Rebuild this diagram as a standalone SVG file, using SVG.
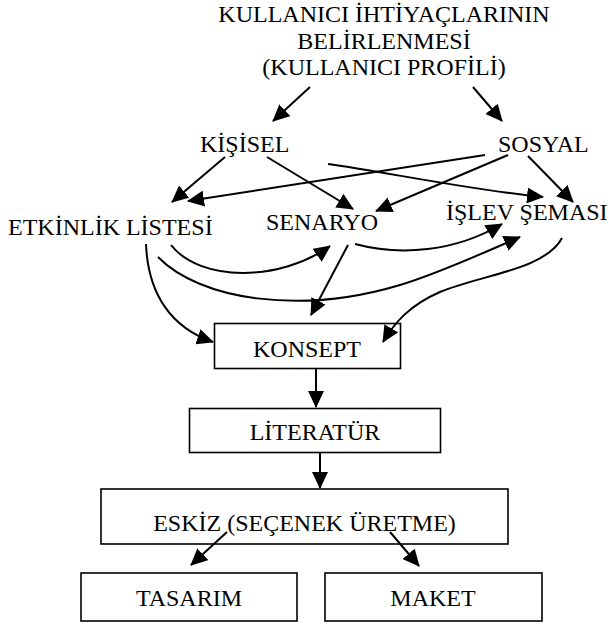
<svg xmlns="http://www.w3.org/2000/svg" width="609" height="625" viewBox="0 0 609 625">
  <style>
    text { font-family: "Liberation Serif", "Times New Roman", serif; font-size: 24px; fill: #000; }
    .c { text-anchor: middle; }
    .box { fill: none; stroke: #000; stroke-width: 1.6; }
    .edge { fill: none; stroke: #000; stroke-width: 2; marker-end: url(#ah); }
  </style>
  <defs>
    <marker id="ah" markerUnits="userSpaceOnUse" markerWidth="17" markerHeight="16" refX="16" refY="8" orient="auto">
      <path d="M0,0 L17,8 L0,16 z" fill="#000"/>
    </marker>
  </defs>
  <rect width="609" height="625" fill="#fff"/>

  <g id="kullanici">
    <text class="c" x="384" y="22">KULLANICI İHTİYAÇLARININ</text>
    <text class="c" x="384" y="49">BELİRLENMESİ</text>
    <text class="c" x="384" y="75">(KULLANICI PROFİLİ)</text>
  </g>
  <g id="kisisel"><text x="200" y="152">KİŞİSEL</text></g>
  <g id="sosyal"><text x="498" y="152">SOSYAL</text></g>
  <g id="etkinlik"><text x="8" y="235">ETKİNLİK LİSTESİ</text></g>
  <g id="senaryo"><text x="266" y="230">SENARYO</text></g>
  <g id="islev"><text x="446" y="220">İŞLEV ŞEMASI</text></g>

  <g id="konsept">
    <rect class="box" x="214.5" y="323.5" width="186" height="45"/>
    <text class="c" x="307" y="357">KONSEPT</text>
  </g>
  <g id="literatur">
    <rect class="box" x="189.5" y="408.5" width="251" height="44"/>
    <text class="c" x="315" y="440">LİTERATÜR</text>
  </g>
  <g id="eskiz">
    <rect class="box" x="101" y="489" width="407" height="55"/>
    <text class="c" x="304.5" y="531">ESKİZ (SEÇENEK ÜRETME)</text>
  </g>
  <g id="tasarim">
    <rect class="box" x="81" y="573" width="216" height="48"/>
    <text class="c" x="189" y="606">TASARIM</text>
  </g>
  <g id="maket">
    <rect class="box" x="325" y="573" width="217" height="48"/>
    <text class="c" x="433" y="606">MAKET</text>
  </g>

  <g id="connectors">
    <line class="edge" x1="310" y1="87" x2="273" y2="121"/>
    <line class="edge" x1="473" y1="87" x2="502" y2="121"/>
    <line class="edge" x1="225" y1="157" x2="172" y2="202"/>
    <line class="edge" x1="267" y1="157" x2="353" y2="209"/>
    <line class="edge" x1="485" y1="155" x2="188" y2="201"/>
    <line class="edge" x1="508" y1="155" x2="376" y2="211"/>
    <line class="edge" x1="528" y1="156" x2="573" y2="202"/>
    <path class="edge" d="M328,164 C380,171 470,190 543,197"/>
    <path class="edge" d="M146,244 C148,295 172,328 213,342"/>
    <path class="edge" d="M171,245 C200,282 280,282 330,246"/>
    <path class="edge" d="M158,257 C200,300 300,315 400,285 C440,273 485,252 520,237"/>
    <path class="edge" d="M355,244 C400,256 455,252 502,224"/>
    <line class="edge" x1="348" y1="245" x2="311" y2="315"/>
    <path class="edge" d="M562,238 C545,270 480,275 440,292 C410,305 395,322 383,342"/>
    <line class="edge" x1="316" y1="369" x2="316" y2="407"/>
    <line class="edge" x1="320" y1="453" x2="320" y2="488"/>
    <line class="edge" x1="227" y1="532" x2="191" y2="565"/>
    <line class="edge" x1="390" y1="532" x2="419" y2="566"/>
  </g>
</svg>
